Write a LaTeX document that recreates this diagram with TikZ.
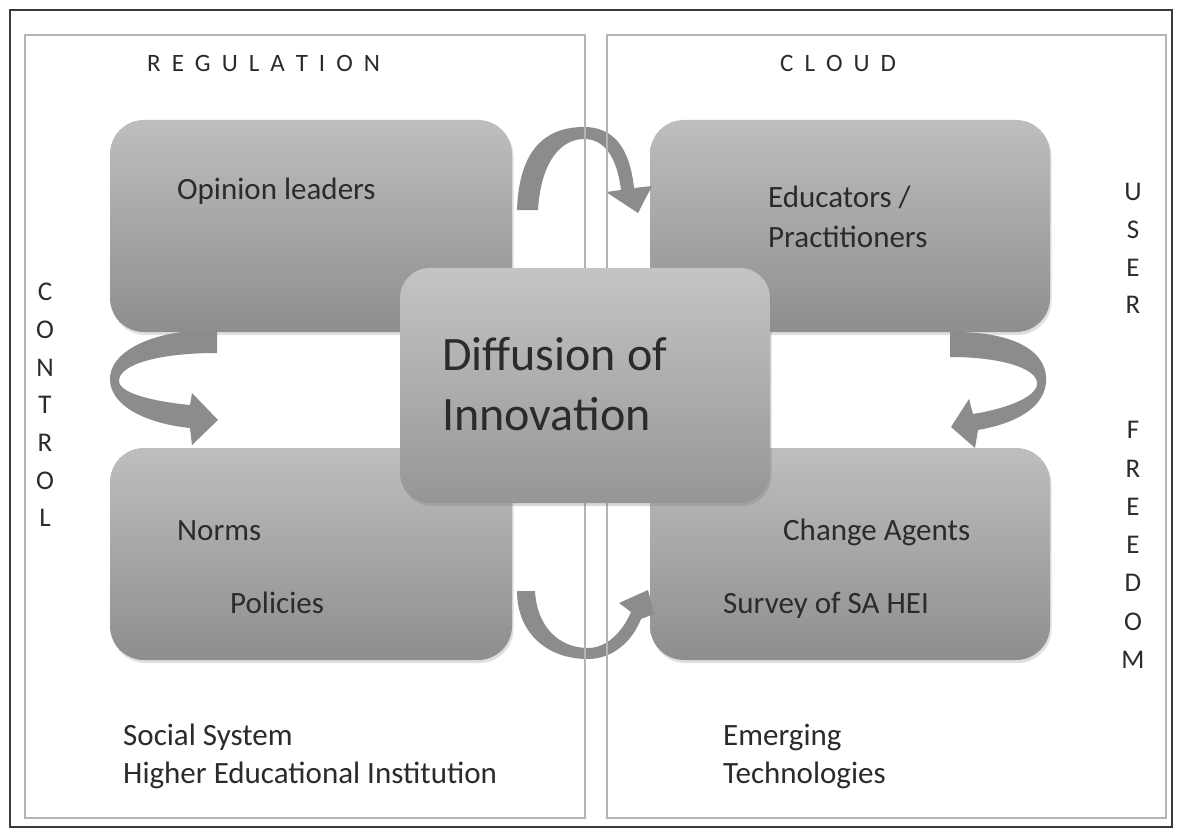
\documentclass[tikz,border=0pt]{standalone}
\usepackage{fontspec}
\setmainfont{Carlito}
\usetikzlibrary{shadows}
\definecolor{txt}{HTML}{2B2B2B}
\definecolor{boxtop}{HTML}{BEBEBE}
\definecolor{boxbot}{HTML}{8E8E8E}
\definecolor{ctop}{HTML}{C4C4C4}
\definecolor{cbot}{HTML}{969696}
\definecolor{panelc}{HTML}{B4B4B4}
\definecolor{framec}{HTML}{3A3A3A}
\definecolor{arrowc}{HTML}{8C8C8C}
\newcommand\lsp{\kern11pt}
\begin{document}
\begin{tikzpicture}[x=1pt,y=-1pt,
  box/.style={rounded corners=34pt, top color=boxtop, bottom color=boxbot, draw=none,
    minimum width=402pt, minimum height=212pt, inner sep=0pt,
    drop shadow={shadow xshift=1.5pt, shadow yshift=-3pt, opacity=0.25}},
  cbox/.style={rounded corners=30pt, top color=ctop, bottom color=cbot, draw=none,
    minimum width=370pt, minimum height=235pt, inner sep=0pt,
    drop shadow={shadow xshift=1.5pt, shadow yshift=-3pt, opacity=0.3}},
  lbl/.style={font=\fontsize{31}{37.8}\selectfont, text=txt, inner sep=0pt, anchor=base west},
  big/.style={font=\fontsize{48}{60}\selectfont, text=txt, inner sep=0pt, anchor=base west},
  spaced/.style={font=\fontsize{25}{30}\selectfont, text=txt, inner sep=0pt, anchor=base west},
  vert/.style={font=\fontsize{27}{37.7}\selectfont, text=txt, align=center, inner sep=0pt},
  panel/.style={draw=panelc, line width=2pt},
  curarrow/.style={fill=arrowc, draw=none}]

% background / bounding box
\fill[white] (0,0) rectangle (1182,837);
\useasboundingbox (0,0) rectangle (1182,837);
\draw[framec, line width=1.5pt] (10,10) rectangle (1172,827);

% corner boxes
\node[box] (tl) at (311,226) {};
\node[box, minimum width=400pt] (tr) at (850,226) {};
\node[box] (bl) at (311,554) {};
\node[box, minimum width=400pt] (br) at (850,554) {};

% curved arrows
\fill[curarrow] (517,210) .. controls (519,150) and (545,127) .. (584,127)
  .. controls (615,127) and (630,150) .. (634,188) -- (652,186) -- (638,213) -- (606,192) -- (621,190)
  .. controls (617,158) and (605,139) .. (584,139)
  .. controls (562,139) and (541,160) .. (538,210) -- cycle;
\fill[curarrow] (950,332) .. controls (1015,331) and (1049,352) .. (1046,383)
  .. controls (1043,410) and (1012,424) .. (978,430) -- (975,448) -- (951,427) -- (969,399) -- (973,414)
  .. controls (1004,409) and (1036,398) .. (1037,384)
  .. controls (1038,368) and (1000,357) .. (950,357) -- cycle;
\fill[curarrow] (217,330) .. controls (152,329) and (108,352) .. (110,381)
  .. controls (112,408) and (150,424) .. (190,428) -- (192,445) -- (218,420) -- (192,393) -- (190,405)
  .. controls (158,402) and (119,394) .. (119,381)
  .. controls (119,364) and (160,353) .. (217,353) -- cycle;
\fill[curarrow] (517,591) .. controls (517,632) and (546,659) .. (588,659)
  .. controls (612,659) and (632,642) .. (641,619) -- (654,614) -- (648,590) -- (619,603) -- (631,612)
  .. controls (622,633) and (606,648) .. (588,648)
  .. controls (560,648) and (537,628) .. (535,591) -- cycle;

% panels
\draw[panel] (25,35) rectangle (585,818);
\draw[panel] (607,35) rectangle (1166,818);

% central box
\node[cbox] (dif) at (585,385.5) {};

% texts
\node[spaced] (reg) at (147,72) {R\lsp E\lsp G\lsp U\lsp L\lsp A\lsp T\lsp I\lsp O\lsp N};
\node[spaced] (cloud) at (780,72) {C\lsp L\lsp O\lsp U\lsp D};
\node[vert] (ctrl) at (45,405) {C\\O\\N\\T\\R\\O\\L};
\node[vert] (user) at (1133,248.5) {U\\S\\E\\R};
\node[vert, font=\fontsize{27}{38.3}\selectfont] (free) at (1133,545) {F\\R\\E\\E\\D\\O\\M};

\node[lbl] (op) at (177,200) {Opinion leaders};
\node[lbl] (ed1) at (768,207) {Educators /};
\node[lbl] (ed2) at (768,247) {Practitioners};
\node[big] (d1) at (442,370) {Diffusion of};
\node[big] (d2) at (442,430) {Innovation};
\node[lbl] (norms) at (177,540) {Norms};
\node[lbl] (pol) at (230,613) {Policies};
\node[lbl] (ca) at (783,540) {Change Agents};
\node[lbl] (sv) at (723,613) {Survey of SA HEI};
\node[lbl] (ss1) at (123,745) {Social System};
\node[lbl] (ss2) at (123,783) {Higher Educational Institution};
\node[lbl] (em1) at (723,745) {Emerging};
\node[lbl] (em2) at (723,783) {Technologies};
\end{tikzpicture}
\end{document}
